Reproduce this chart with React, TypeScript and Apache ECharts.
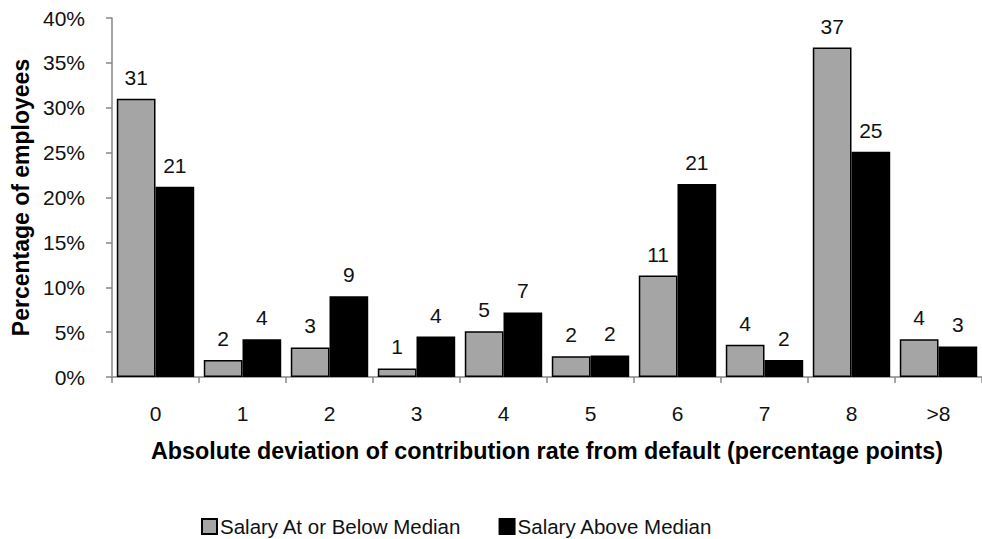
import React, { useEffect, useRef } from "react";
import * as echarts from "echarts";

const categories = ["0", "1", "2", "3", "4", "5", "6", "7", "8", ">8"];
const belowMedian = [31.0, 1.9, 3.3, 0.95, 5.1, 2.3, 11.3, 3.6, 36.7, 4.2];
const aboveMedian = [21.2, 4.2, 9.0, 4.5, 7.2, 2.4, 21.5, 1.9, 25.1, 3.4];
const belowLabels = ["31", "2", "3", "1", "5", "2", "11", "4", "37", "4"];
const aboveLabels = ["21", "4", "9", "4", "7", "2", "21", "2", "25", "3"];
const seriesNames = ["Salary At or Below Median", "Salary Above Median"];

const FONT = "'Liberation Sans', Arial, sans-serif";

export default function App() {
  const ref = useRef<HTMLDivElement>(null);
  useEffect(() => {
    if (!ref.current) return;
    const chart = echarts.init(ref.current, null, { renderer: "svg" });
    const labelCfg = (labels: string[]) => ({
      show: true,
      position: "top",
      distance: 11,
      fontSize: 21,
      fontFamily: FONT,
      color: "#111",
      formatter: (p: any) => labels[p.dataIndex],
    });
    chart.setOption({
      animation: false,
      textStyle: { fontFamily: FONT },
      grid: { left: 112, top: 18, bottom: 162, width: 880 },
      legend: {
        left: 196,
        top: 511,
        itemWidth: 15,
        itemHeight: 15,
        itemGap: 37,
        icon: "rect",
        textStyle: { fontSize: 20.5, fontFamily: FONT, color: "#111", padding: [0, 0, 0, -2] },
        data: seriesNames,
      },
      xAxis: {
        type: "category",
        data: categories,
        axisLine: { lineStyle: { color: "#868686", width: 1.5 } },
        axisTick: { show: true, length: 6, lineStyle: { color: "#868686", width: 1.5 } },
        axisLabel: { fontSize: 21, color: "#111", margin: 26, fontFamily: FONT },
        name: "Absolute deviation of contribution rate from default (percentage points)",
        nameLocation: "middle",
        nameGap: 62,
        nameTextStyle: { fontSize: 23.3, fontWeight: "bold", color: "#000", fontFamily: FONT },
      },
      yAxis: {
        type: "value",
        min: 0,
        max: 40,
        interval: 5,
        axisLine: { show: true, lineStyle: { color: "#868686", width: 1.5 } },
        axisTick: { show: true, length: 6, lineStyle: { color: "#868686", width: 1.5 } },
        splitLine: { show: false },
        axisLabel: { fontSize: 21, color: "#111", margin: 27, formatter: "{value}%", fontFamily: FONT },
        name: "Percentage of employees",
        nameLocation: "middle",
        nameGap: 80,
        nameTextStyle: {
          fontSize: 23,
          fontWeight: "bold",
          color: "#000",
          fontFamily: FONT,
        },
      },
      series: [
        {
          name: seriesNames[0],
          type: "bar",
          data: belowMedian,
          barGap: "0%",
          barCategoryGap: "11%",
          itemStyle: { color: "#a5a5a5", borderColor: "#000", borderWidth: 1.5 },
          label: labelCfg(belowLabels),
        },
        {
          name: seriesNames[1],
          type: "bar",
          data: aboveMedian,
          barGap: "0%",
          barCategoryGap: "11%",
          itemStyle: { color: "#000", borderColor: "#000", borderWidth: 1.5 },
          label: labelCfg(aboveLabels),
        },
      ],
    });
    return () => chart.dispose();
  }, []);
  return (
    <div
      ref={ref}
      style={{ position: "fixed", left: 0, top: 0, width: 982, height: 539, background: "#fff" }}
    />
  );
}
